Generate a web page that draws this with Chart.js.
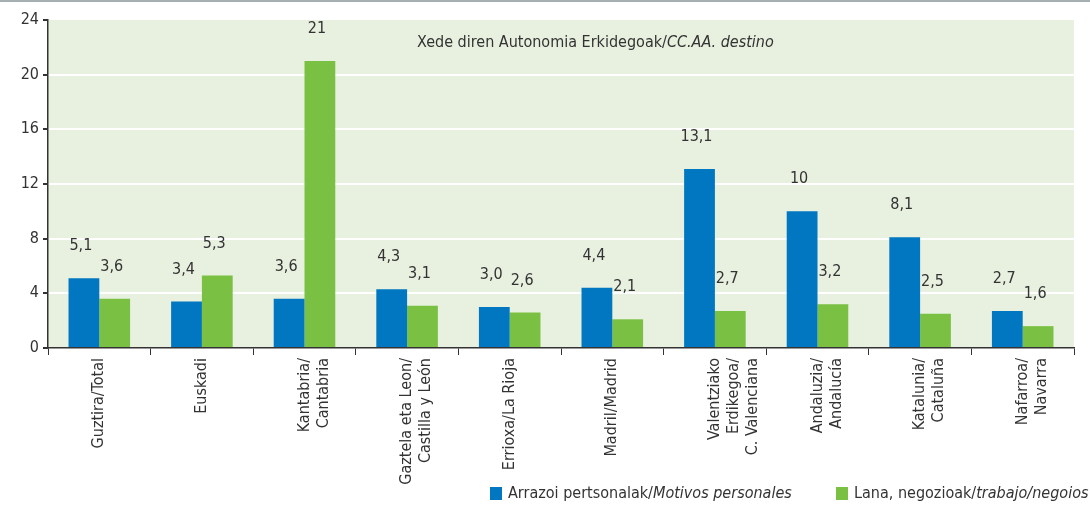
<!DOCTYPE html>
<html>
<head>
<meta charset="utf-8">
<script src="https://cdn.jsdelivr.net/npm/chart.js@4.4.0/dist/chart.umd.min.js"></script>
<style>
  html, body { margin: 0; padding: 0; background: #fff; }
  canvas { display: block; }
</style>
</head>
<body>
<canvas id="barChart" width="1090" height="505"></canvas>
<script>
// categorías (comunidades de destino)
const categories = [
    'Guztira/Total',
    'Euskadi',
    ['Kantabria/', 'Cantabria'],
    ['Gaztela eta Leon/', 'Castilla y León'],
    'Errioxa/La Rioja',
    'Madril/Madrid',
    ['Valentziako', 'Erdikegoa/', 'C. Valenciana'],
    ['Andaluzia/', 'Andalucía'],
    ['Katalunia/', 'Cataluña'],
    ['Nafarroa/', 'Navarra']
];
const personales = [5.1, 3.4, 3.6, 4.3, 3.0, 4.4, 13.1, 10, 8.1, 2.7];
const trabajo = [3.6, 5.3, 21, 3.1, 2.6, 2.1, 2.7, 3.2, 2.5, 1.6];
const yTicks = [0, 4, 8, 12, 16, 20, 24];

const FONT = '"Liberation Sans Narrow", "DejaVu Sans Condensed", "Roboto Condensed", sans-serif';
const TEXT = '#333333';
const BLUE = '#0077c0';
const GREEN = '#7ac143';

function fmt(v) {
    if (v >= 10 && Number.isInteger(v)) return String(v);
    return v.toFixed(1).replace('.', ',');
}

// fondo verde del área + línea gris superior
const bgPlugin = {
    id: 'bg',
    beforeDraw(chart) {
        const { ctx, chartArea } = chart;
        ctx.save();
        ctx.fillStyle = '#a5aeb1';
        ctx.fillRect(0, 0, chart.width, 2);
        ctx.fillStyle = '#e8f0df';
        ctx.fillRect(chartArea.left, chartArea.top, chartArea.right - chartArea.left, chartArea.bottom - chartArea.top);
        ctx.restore();
    }
};

// etiquetas de valor, título interior y leyenda
const textPlugin = {
    id: 'texts',
    afterDatasetsDraw(chart) {
        const ctx = chart.ctx;
        ctx.save();
        ctx.font = '16px ' + FONT;
        ctx.fillStyle = TEXT;
        ctx.textAlign = 'center';
        ctx.textBaseline = 'middle';
        chart.data.datasets.forEach((ds, i) => {
            chart.getDatasetMeta(i).data.forEach((bar, j) => {
                ctx.fillText(fmt(ds.data[j]), bar.x - 3, bar.y - 32);
            });
        });

        // título
        ctx.textAlign = 'left';
        let x = 417;
        const ty = 43;
        ctx.font = '16px ' + FONT;
        const t1 = 'Xede diren Autonomia Erkidegoak/';
        ctx.fillText(t1, x, ty);
        x += ctx.measureText(t1).width;
        ctx.font = 'italic 16px ' + FONT;
        ctx.fillText('CC.AA. destino', x, ty);

        // leyenda
        const items = [
            { color: BLUE, a: 'Arrazoi pertsonalak/', b: 'Motivos personales', x: 490 },
            { color: GREEN, a: 'Lana, negozioak/', b: 'trabajo/negoios', x: 836 }
        ];
        const ly = 494;
        items.forEach(it => {
            ctx.fillStyle = it.color;
            ctx.fillRect(it.x, ly - 7, 12, 13);
            ctx.fillStyle = TEXT;
            let lx = it.x + 18;
            ctx.font = '16px ' + FONT;
            ctx.fillText(it.a, lx, ly);
            lx += ctx.measureText(it.a).width;
            ctx.font = 'italic 16px ' + FONT;
            ctx.fillText(it.b, lx, ly);
        });
        ctx.restore();
    }
};

const ctx = document.getElementById('barChart').getContext('2d');
const barChart = new Chart(ctx, {
    type: 'bar',
    data: {
        labels: categories,
        datasets: [{
            label: 'Arrazoi pertsonalak/Motivos personales',
            data: personales,
            backgroundColor: BLUE,
            categoryPercentage: 0.6,
            barPercentage: 1.0
        }, {
            label: 'Lana, negozioak/trabajo/negoios',
            data: trabajo,
            backgroundColor: GREEN,
            categoryPercentage: 0.6,
            barPercentage: 1.0
        }]
    },
    options: {
        responsive: false,
        animation: false,
        devicePixelRatio: 1,
        layout: { padding: { top: 20, right: 16, bottom: 0, left: 0 } },
        plugins: {
            legend: { display: false },
            tooltip: { enabled: false }
        },
        scales: {
            x: {
                afterFit(scale) { scale.height = 157; },
                border: { color: TEXT, width: 1.5 },
                grid: {
                    offset: true,
                    drawOnChartArea: false,
                    drawTicks: true,
                    tickLength: 7,
                    tickColor: TEXT,
                    color: TEXT
                },
                ticks: {
                    autoSkip: false,
                    maxRotation: 90,
                    minRotation: 90,
                    padding: 3,
                    color: TEXT,
                    font: { family: FONT, size: 16 }
                }
            },
            y: {
                min: 0,
                max: 24,
                afterFit(scale) { scale.width = 48; },
                afterBuildTicks(scale) { scale.ticks = yTicks.map(v => ({ value: v })); },
                border: { color: TEXT, width: 1.5 },
                grid: {
                    color: c => (c.tick && (c.tick.value === 0 || c.tick.value === 24)) ? 'rgba(0,0,0,0)' : '#ffffff',
                    lineWidth: 2,
                    tickColor: TEXT,
                    tickLength: 5
                },
                ticks: {
                    padding: 4,
                    color: TEXT,
                    font: { family: FONT, size: 16 }
                }
            }
        }
    },
    plugins: [bgPlugin, textPlugin]
});
</script>
</body>
</html>
